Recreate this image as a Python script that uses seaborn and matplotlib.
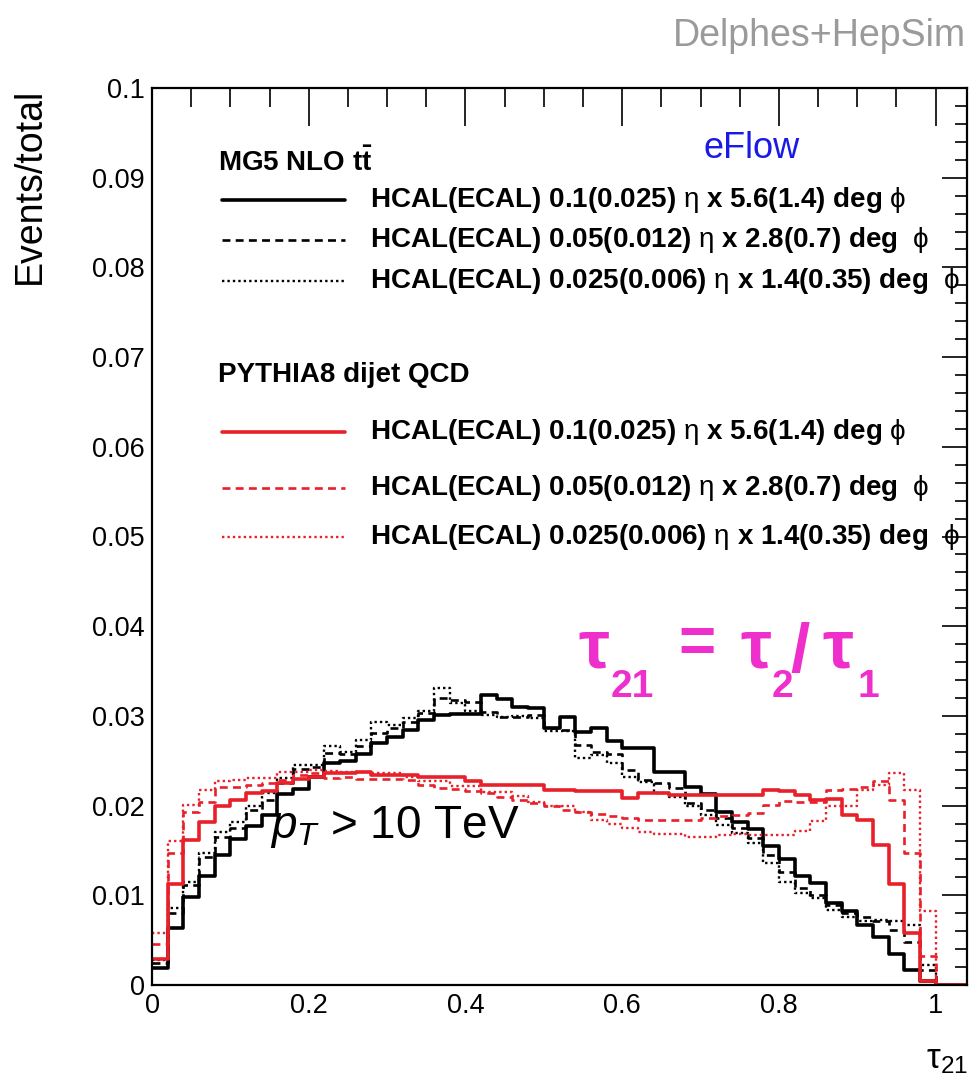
import numpy as np
import pandas as pd
import matplotlib
matplotlib.use("Agg")
import matplotlib.pyplot as plt
from matplotlib.lines import Line2D
from matplotlib.ticker import MultipleLocator, FuncFormatter
import seaborn as sns

# ---------------- data ----------------
bin_edges = [round(0.02 * i, 2) for i in range(53)]

mg5_hcal_01 = [0.0019, 0.0064, 0.0098, 0.0121, 0.0145, 0.0163, 0.0177, 0.0189, 0.0213, 0.0218,
               0.0232, 0.0248, 0.0250, 0.0257, 0.0270, 0.0276, 0.0284, 0.0295, 0.0301, 0.0302,
               0.0302, 0.0323, 0.0319, 0.0310, 0.0309, 0.0286, 0.0299, 0.0282, 0.0287, 0.0272,
               0.0264, 0.0264, 0.0237, 0.0237, 0.0221, 0.0213, 0.0193, 0.0182, 0.0174, 0.0155,
               0.0141, 0.0121, 0.0114, 0.0091, 0.0082, 0.0067, 0.0054, 0.0035, 0.0017, 0.0004,
               0.0, 0.0]
mg5_hcal_005 = [0.0024, 0.0080, 0.0111, 0.0143, 0.0165, 0.0175, 0.0195, 0.0206, 0.0225, 0.0241,
                0.0243, 0.0259, 0.0257, 0.0266, 0.0281, 0.0286, 0.0293, 0.0303, 0.0320, 0.0318,
                0.0315, 0.0304, 0.0299, 0.0299, 0.0301, 0.0286, 0.0284, 0.0268, 0.0260, 0.0258,
                0.0240, 0.0229, 0.0225, 0.0220, 0.0203, 0.0195, 0.0186, 0.0175, 0.0164, 0.0145,
                0.0126, 0.0108, 0.0100, 0.0089, 0.0080, 0.0076, 0.0071, 0.0061, 0.0048, 0.0017,
                0.0, 0.0]
mg5_hcal_0025 = [0.0028, 0.0086, 0.0115, 0.0147, 0.0171, 0.0182, 0.0199, 0.0214, 0.0231, 0.0245,
                 0.0245, 0.0266, 0.0260, 0.0273, 0.0293, 0.0290, 0.0298, 0.0305, 0.0331, 0.0314,
                 0.0305, 0.0301, 0.0299, 0.0300, 0.0298, 0.0283, 0.0283, 0.0253, 0.0256, 0.0247,
                 0.0232, 0.0226, 0.0214, 0.0210, 0.0199, 0.0190, 0.0178, 0.0169, 0.0158, 0.0136,
                 0.0115, 0.0103, 0.0097, 0.0084, 0.0076, 0.0071, 0.0073, 0.0071, 0.0067, 0.0022,
                 0.0, 0.0]
qcd_hcal_01 = [0.0029, 0.0113, 0.0162, 0.0182, 0.0199, 0.0206, 0.0214, 0.0216, 0.0225, 0.0230,
               0.0232, 0.0236, 0.0236, 0.0237, 0.0234, 0.0234, 0.0234, 0.0232, 0.0232, 0.0232,
               0.0227, 0.0223, 0.0223, 0.0223, 0.0223, 0.0217, 0.0217, 0.0216, 0.0216, 0.0216,
               0.0208, 0.0214, 0.0214, 0.0212, 0.0212, 0.0212, 0.0212, 0.0212, 0.0212, 0.0217,
               0.0216, 0.0212, 0.0206, 0.0207, 0.0190, 0.0184, 0.0156, 0.0113, 0.0058, 0.0005,
               0.0, 0.0]
qcd_hcal_005 = [0.0046, 0.0147, 0.0193, 0.0204, 0.0221, 0.0221, 0.0223, 0.0225, 0.0229, 0.0234,
                0.0236, 0.0231, 0.0232, 0.0230, 0.0230, 0.0230, 0.0229, 0.0223, 0.0220, 0.0218,
                0.0216, 0.0214, 0.0210, 0.0206, 0.0203, 0.0200, 0.0195, 0.0193, 0.0191, 0.0188,
                0.0186, 0.0184, 0.0184, 0.0184, 0.0184, 0.0186, 0.0188, 0.0190, 0.0192, 0.0201,
                0.0205, 0.0204, 0.0204, 0.0217, 0.0219, 0.0221, 0.0227, 0.0206, 0.0147, 0.0032,
                0.0, 0.0]
qcd_hcal_0025 = [0.0058, 0.0160, 0.0201, 0.0217, 0.0227, 0.0228, 0.0231, 0.0231, 0.0238, 0.0238,
                 0.0240, 0.0239, 0.0238, 0.0238, 0.0236, 0.0236, 0.0232, 0.0227, 0.0227, 0.0222,
                 0.0222, 0.0215, 0.0215, 0.0211, 0.0204, 0.0199, 0.0199, 0.0193, 0.0184, 0.0180,
                 0.0175, 0.0171, 0.0168, 0.0168, 0.0165, 0.0165, 0.0167, 0.0168, 0.0167, 0.0167,
                 0.0167, 0.0172, 0.0183, 0.0199, 0.0200, 0.0217, 0.0223, 0.0236, 0.0217, 0.0082,
                 0.0, 0.0]

legend_labels = [
    r"HCAL(ECAL) 0.1(0.025) $\mathrm{\eta}$ x 5.6(1.4) deg $\mathrm{\phi}$",
    r"HCAL(ECAL) 0.05(0.012) $\mathrm{\eta}$ x 2.8(0.7) deg  $\mathrm{\phi}$",
    r"HCAL(ECAL) 0.025(0.006) $\mathrm{\eta}$ x 1.4(0.35) deg  $\mathrm{\phi}$",
]
y_ticks = [0.0, 0.01, 0.02, 0.03, 0.04, 0.05, 0.06, 0.07, 0.08, 0.09, 0.1]
x_ticks = [0.0, 0.2, 0.4, 0.6, 0.8, 1.0]

# ---------------- style ----------------
sns.set_theme(style="white")
plt.rcParams["font.family"] = ["Liberation Sans", "DejaVu Sans"]
plt.rcParams["mathtext.fontset"] = "custom"
plt.rcParams["mathtext.rm"] = "Liberation Sans"
plt.rcParams["mathtext.it"] = "Liberation Sans:italic"
plt.rcParams["mathtext.bf"] = "Liberation Sans:bold"
for k in ["text.color", "axes.labelcolor", "xtick.color", "ytick.color", "axes.edgecolor"]:
    plt.rcParams[k] = "black"

RED = "#E8202A"
MAGENTA = "#EE2FCB"
W, H = 969, 1080
fx = lambda x: x / W
fy = lambda y: 1 - y / H

fig = plt.figure(figsize=(W / 100, H / 100), dpi=100)
ax = fig.add_axes([fx(152), fy(985), (967 - 152) / W, (985 - 88) / H])

centers = [(a + b) / 2 for a, b in zip(bin_edges[:-1], bin_edges[1:])]
styles = [
    (mg5_hcal_01, "black", "-", 2.6),
    (mg5_hcal_005, "black", (0, (3, 2)), 1.9),
    (mg5_hcal_0025, "black", (0, (1, 1.3)), 1.7),
    (qcd_hcal_01, RED, "-", 2.6),
    (qcd_hcal_005, RED, (0, (3, 2)), 1.9),
    (qcd_hcal_0025, RED, (0, (1, 1.3)), 1.7),
]
for vals, col, ls, lw in styles:
    df = pd.DataFrame({"tau21": centers, "w": vals})
    sns.histplot(data=df, x="tau21", weights="w", bins=bin_edges, element="step",
                 fill=False, color=col, linestyle=ls, linewidth=lw, ax=ax)

ax.set_xlim(0, 1.04)
ax.set_ylim(0, 0.1)
ax.set_xlabel("")
ax.set_ylabel("")
ax.set_xticks(x_ticks)
ax.set_yticks(y_ticks)
ax.xaxis.set_minor_locator(MultipleLocator(0.05))
ax.yaxis.set_minor_locator(MultipleLocator(0.002))
fmt = FuncFormatter(lambda v, _: "%g" % round(v, 4))
ax.xaxis.set_major_formatter(fmt)
ax.yaxis.set_major_formatter(fmt)
ax.tick_params(which="both", direction="in", top=True, right=True, color="black",
               labelcolor="black", width=1.2)
ax.tick_params(axis="x", which="major", length=27, labelsize=19.5, pad=6)
ax.tick_params(axis="x", which="minor", length=14)
ax.tick_params(axis="y", which="major", length=18, labelsize=19.5, pad=5)
ax.tick_params(axis="y", which="minor", length=9)
for s in ax.spines.values():
    s.set_color("black")
    s.set_linewidth(1.6)

# ---------------- texts ----------------
fig.text(fx(966), fy(36), "Delphes+HepSim", ha="right", va="center", color="#9a9a9a", fontsize=27)
fig.text(fx(30), fy(88), "Events/total", rotation=90, ha="center", va="top", fontsize=27,
         color="black")
fig.text(fx(968), fy(1068), r"$\mathrm{\tau_{21}}$", ha="right", va="baseline", fontsize=25,
         color="black")

fig.text(fx(752), fy(148), "eFlow", ha="center", va="center", color="#1a1ae6", fontsize=26)

fig.text(fx(218), fy(162), r"MG5 NLO t$\mathbf{\bar{t}}$", ha="left", va="center",
         fontsize=20, fontweight="bold", color="black")
fig.text(fx(218), fy(375), "PYTHIA8 dijet QCD", ha="left", va="center",
         fontsize=20, fontweight="bold", color="black")

rows_black = [200, 240, 281]
rows_red = [432, 488, 537]
for rows, col in [(rows_black, "black"), (rows_red, RED)]:
    for (vals, c, ls, lw), yrow, lab in zip([s for s in styles if s[1] == col], rows, legend_labels):
        fig.add_artist(Line2D([fx(222), fx(345)], [fy(yrow), fy(yrow)], transform=fig.transFigure,
                              color=c, linestyle=ls, linewidth=lw))
        fig.text(fx(370), fy(yrow), lab, ha="left", va="center", fontsize=20,
                 fontweight="bold", color="black")

# tau21 = tau2 / tau1 in magenta
big = dict(color=MAGENTA, fontweight="bold", va="baseline", ha="left")
fig.text(fx(578), fy(668), "τ", fontsize=50, **big)
fig.text(fx(611), fy(697), "21", fontsize=28, **big)
fig.text(fx(678), fy(662), "=", fontsize=46, **big)
fig.text(fx(740), fy(668), "τ", fontsize=50, **big)
fig.text(fx(772), fy(697), "2", fontsize=28, **big)
fig.text(fx(790), fy(672), "/", fontsize=50, **big)
fig.text(fx(822), fy(668), "τ", fontsize=50, **big)
fig.text(fx(857), fy(697), "1", fontsize=28, **big)

fig.text(fx(270), fy(838), r"$p_{T}$ > 10 TeV", ha="left", va="baseline", fontsize=33,
         color="black")

fig.savefig("out.png", dpi=100)
